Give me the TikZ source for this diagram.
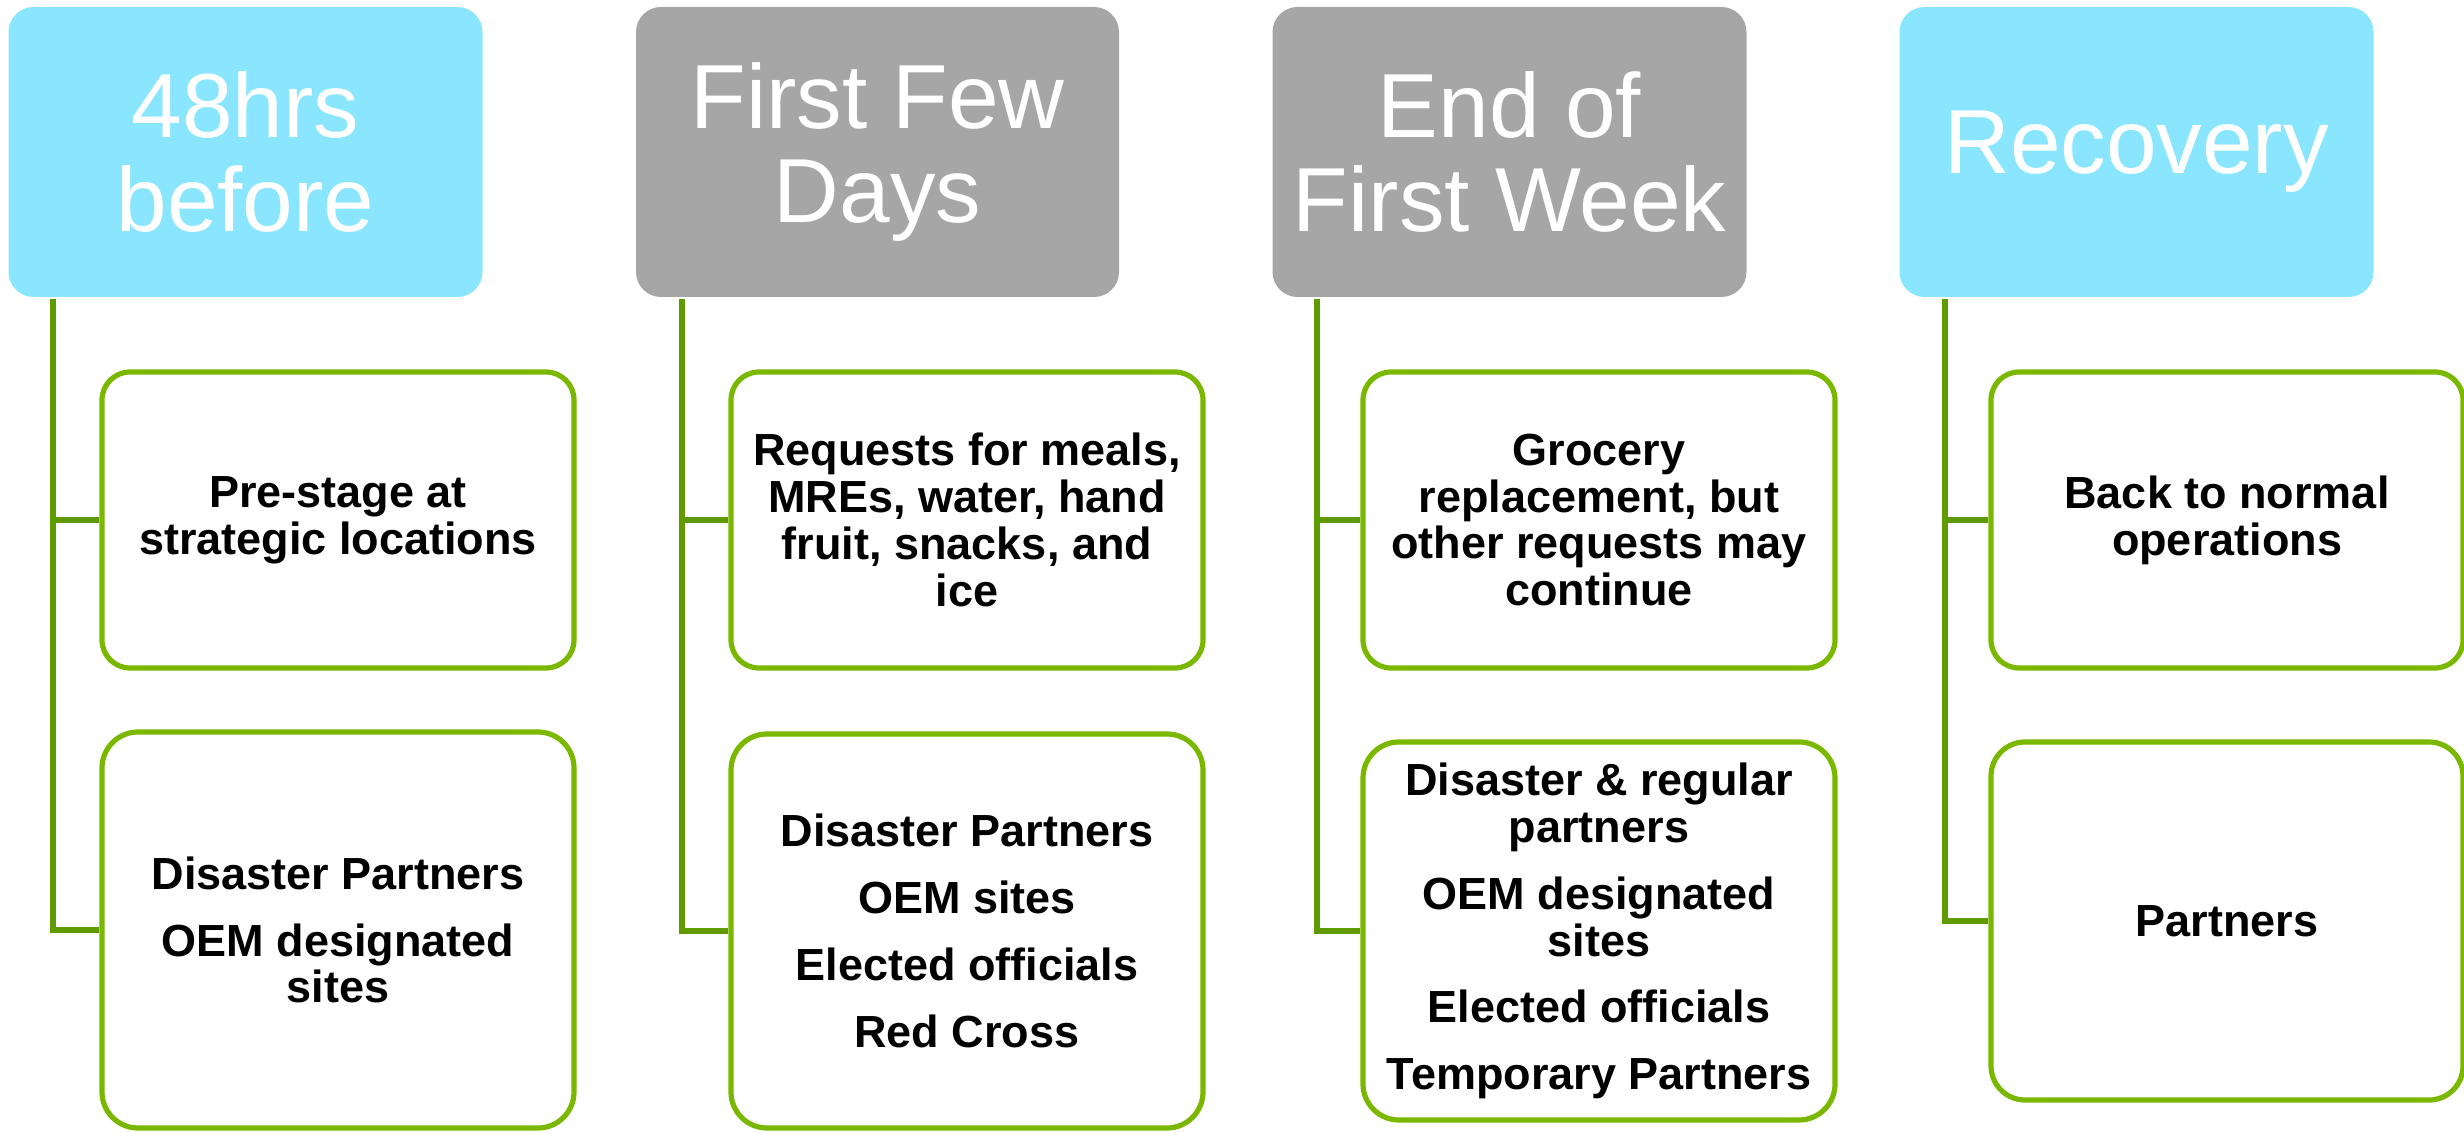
\documentclass[tikz,border=0pt]{standalone}
\usepackage{fontspec}
\setmainfont{Liberation Sans}
\definecolor{hdrblue}{HTML}{8AE6FF}
\definecolor{hdrgray}{HTML}{A6A6A6}
\definecolor{boxgreen}{HTML}{7AB800}
\definecolor{linegreen}{HTML}{5F9A00}
\tikzset{
  hdr/.style={rounded corners=12.5pt, minimum width=237pt, minimum height=145pt,
    inner sep=0pt, align=center, text=white,
    font=\fontsize{45.5pt}{47pt}\selectfont},
  itembox/.style={draw=boxgreen, line width=2.6pt, fill=white, rounded corners=14pt,
    minimum width=236pt, inner sep=0pt, align=center,
    font=\fontsize{22.5pt}{23.4pt}\selectfont\bfseries},
  bigbox/.style={itembox, rounded corners=18pt},
  conn/.style={draw=linegreen, line width=2.6pt}
}
\begin{document}
\begin{tikzpicture}[x=0.5pt,y=-0.5pt]
\useasboundingbox (0,0) rectangle (2464,1133);
% headers (centres)
\node[hdr, fill=hdrblue] (h1) at (245.5,152) {48hrs\\before};
\node[hdr, fill=hdrgray, minimum width=241.5pt] (h2) at (877.5,152) {First Few\\Days};
\node[hdr, fill=hdrgray] (h3) at (1509.5,152) {End of\\First Week};
\node[hdr, fill=hdrblue] (h4) at (2136.5,152) {Recovery};
% first-level boxes
\node[itembox, minimum height=148pt] (b11) at (338,520) {Pre-stage at\\strategic locations};
\node[itembox, minimum height=148pt] (b21) at (967,520) {Requests for meals,\\MREs, water, hand\\fruit, snacks, and\\ice};
\node[itembox, minimum height=148pt] (b31) at (1599,520) {Grocery\\replacement, but\\other requests may\\continue};
\node[itembox, minimum height=148pt] (b41) at (2227,520) {Back to normal\\operations};
% second-level boxes
\node[bigbox, minimum height=198pt] (b12) at (338,930) {Disaster Partners\\[10pt]OEM designated\\sites};
\node[bigbox, minimum height=197pt] (b22) at (967,931) {Disaster Partners\\[10pt]OEM sites\\[10pt]Elected officials\\[10pt]Red Cross};
\node[bigbox, minimum height=189pt] (b32) at (1599,931) {Disaster \& regular\\partners\\[10pt]OEM designated\\sites\\[10pt]Elected officials\\[10pt]Temporary Partners};
\node[bigbox, minimum height=179pt, rounded corners=17pt] (b42) at (2227,921) {Partners};
% connectors
\foreach \i/\x in {1/53,2/682,3/1317,4/1945}{
  \coordinate (t\i) at (\x,299);
}
\foreach \i in {1,2,3,4}{
  \draw[conn] (t\i) |- (b\i2.west);
  \draw[conn] (t\i |- b\i1.west) -- (b\i1.west);
}
\end{tikzpicture}
\end{document}
